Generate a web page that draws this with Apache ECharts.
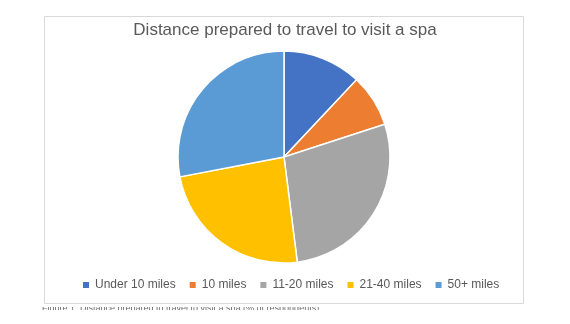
<!DOCTYPE html>
<html>
<head>
<meta charset="utf-8">
<script src="https://cdn.jsdelivr.net/npm/echarts@6/dist/echarts.min.js"></script>
<style>
  html, body { margin: 0; padding: 0; background: #fff; }
  #chart { width: 570px; height: 324px; }
  #caption {
    position: absolute; left: 42px; top: 307px; height: 3px; overflow: hidden;
    font: 9px "Liberation Sans", Arial, sans-serif; color: #6a6a6a; white-space: nowrap;
  }
  #caption span { position: relative; top: -4px; }
</style>
</head>
<body>
<div id="chart"></div>
<div id="caption"><span>Figure 1: Distance prepared to travel to visit a spa (% of respondents)</span></div>
<script>
const titleText = 'Distance prepared to travel to visit a spa';
const categories = ['Under 10 miles', '10 miles', '11-20 miles', '21-40 miles', '50+ miles'];
const shares = [12, 8, 28, 24, 28];
const palette = ['#4472C4', '#ED7D31', '#A5A5A5', '#FFC000', '#5B9BD5'];

const chart = echarts.init(document.getElementById('chart'));
chart.setOption({
  animation: false,
  color: palette,
  title: {
    text: titleText,
    left: 'center',
    top: 17,
    textStyle: { fontFamily: 'Liberation Sans, Arial, sans-serif', fontSize: 17, fontWeight: 'normal', color: '#595959' }
  },
  legend: {
    data: categories,
    top: 274,
    left: 76,
    icon: 'rect',
    itemWidth: 8,
    itemHeight: 8,
    itemGap: 12,
    textStyle: { fontFamily: 'Liberation Sans, Arial, sans-serif', fontSize: 12, color: '#595959' }
  },
  graphic: [{
    type: 'rect',
    shape: { x: 44.5, y: 16.5, width: 479, height: 287 },
    style: { fill: 'none', stroke: '#D9D9D9', lineWidth: 1 },
    silent: true
  }],
  series: [{
    type: 'pie',
    center: [284, 157],
    radius: 106,
    startAngle: 90,
    clockwise: true,
    label: { show: false },
    labelLine: { show: false },
    itemStyle: { borderColor: '#ffffff', borderWidth: 1.5 },
    data: categories.map((name, i) => ({ name, value: shares[i] }))
  }]
});
</script>
</body>
</html>
